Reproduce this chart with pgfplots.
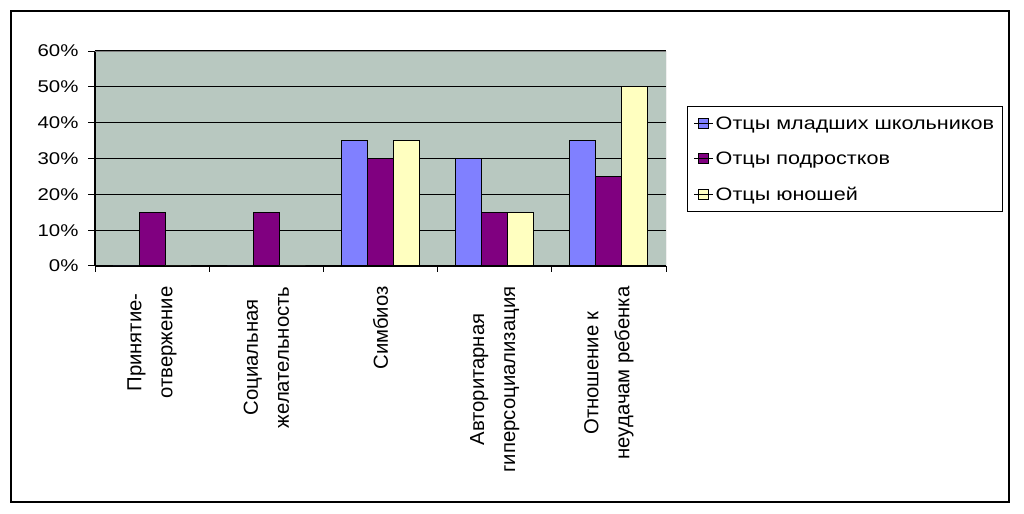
\documentclass[border=0pt]{standalone}
\usepackage{pgfplots}
\pgfplotsset{compat=1.18}
\usepackage{fontspec}
\setmainfont{Liberation Sans}
\newfontfamily\wfont[FakeStretch=1.2]{Liberation Sans}
\definecolor{cblue}{HTML}{8080FF}
\definecolor{cpurple}{HTML}{800080}
\definecolor{cyellow}{HTML}{FFFFC0}
\definecolor{plotbg}{HTML}{B8C8C0}
\definecolor{edge}{HTML}{808080}

\pgfplotstableread{
x  young teen youth
0  0     15   0
1  0     15   0
2  35    30   35
3  30    15   15
4  35    25   50
}\fathers

\begin{document}
\begin{tikzpicture}
\useasboundingbox (0,0) rectangle (1024bp,514bp);
\draw[line width=1.5bp] (11bp,12bp) rectangle (1009bp,503bp);
\begin{axis}[
    at={(95bp,248bp)}, anchor=south west,
    scale only axis,
    width=571bp, height=215bp,
    xmin=-0.5, xmax=4.5,
    ymin=0, ymax=60,
    ybar=0pt, bar width=26bp,
    axis background/.style={fill=plotbg},
    axis x line*=bottom, axis y line*=left,
    axis line style={line width=1.2bp, -},
    xtick={0,1,2,3,4},
    xticklabels={{Принятие-\\отвержение},{Социальная\\желательность},{Симбиоз},
                 {Авторитарная\\гиперсоциализация},{Отношение к\\неудачам ребенка}},
    x tick style={draw=none},
    minor xtick={-0.5,0.5,1.5,2.5,3.5,4.5},
    minor x tick style={draw=black, line width=1bp},
    minor tick length=6bp,
    xticklabel style={rotate=90, anchor=east, align=center,
        font=\fontsize{20.3bp}{31bp}\selectfont},
    xticklabel shift=10bp,
    ytick={0,10,...,60},
    yticklabels={0\%,10\%,20\%,30\%,40\%,50\%,60\%},
    yticklabel style={font=\wfont\fontsize{17bp}{20bp}\selectfont},
    yticklabel shift=6bp,
    y tick style={draw=black, line width=1bp},
    major tick length=7bp,
    tick align=outside,
    ymajorgrids,
    major grid style={black, line width=1.2bp},
    legend style={at={(1.037,0.744)}, anchor=north west, draw=black,
        line width=1.2bp, fill=white,
        font=\wfont\fontsize{18bp}{21bp}\selectfont,
        inner xsep=6bp, inner ysep=8bp, row sep=17bp},
    legend cell align=left,
    legend image code/.code={\draw[#1, draw=black, line width=0.8bp]
        (4bp,-5bp) rectangle (14bp,5bp);
        \path (0bp,0bp) -- (19bp,0bp);},
]
\addplot[fill=cblue, draw=black, line width=1bp] table[x=x, y=young] {\fathers};
\addlegendentry{Отцы младших школьников}
\addplot[fill=cpurple, draw=black, line width=1bp] table[x=x, y=teen] {\fathers};
\addlegendentry{Отцы подростков}
\addplot[fill=cyellow, draw=black, line width=1bp] table[x=x, y=youth] {\fathers};
\addlegendentry{Отцы юношей}
\draw[edge, line width=1bp] (rel axis cs:0,1) -- (rel axis cs:1,1) -- (rel axis cs:1,0);
\end{axis}
\end{tikzpicture}
\end{document}
